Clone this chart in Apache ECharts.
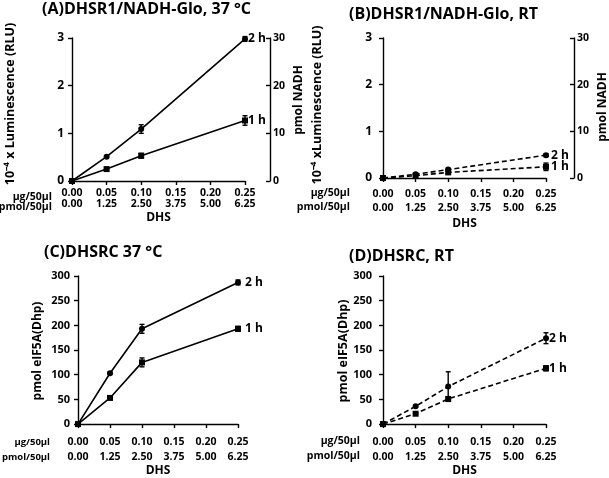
<!DOCTYPE html>
<html><head><meta charset="utf-8">
<script src="https://cdn.jsdelivr.net/npm/echarts@6/dist/echarts.min.js"></script>
<style>html,body{margin:0;padding:0;background:#fff}#c{width:609px;height:478px}</style>
</head><body><div id="c"></div>
<script>
// ---- data ----
const ugLabels = ['0.00', '0.05', '0.10', '0.15', '0.20', '0.25'];
const pmolLabels = ['0.00', '1.25', '2.50', '3.75', '5.00', '6.25'];
const dhs = [0, 0.05, 0.10, 0.25];

const titles = ['(A)DHSR1/NADH-Glo, 37 °C', '(B)DHSR1/NADH-Glo, RT', '(C)DHSRC 37 °C', '(D)DHSRC, RT'];
const seriesNames = ['2 h', '1 h'];

const a2h = [0, 0.51, 1.09, 2.98];
const a2hErr = [0, 0.02, 0.09, 0.05];
const a1h = [0, 0.25, 0.53, 1.27];
const a1hErr = [0, 0.02, 0.05, 0.10];

const b2h = [0, 0.08, 0.18, 0.49];
const b2hErr = [0, 0.01, 0.03, 0.03];
const b1h = [0, 0.05, 0.12, 0.24];
const b1hErr = [0, 0.01, 0.03, 0.08];

const c2h = [0, 103, 193, 287];
const c2hErr = [0, 2, 9, 5];
const c1h = [0, 53, 125, 193];
const c1hErr = [0, 2, 9, 5];

const d2h = [0, 36, 76, 174];
const d2hErr = [0, 2, 30, 11];
const d1h = [0, 21, 51, 113];
const d1hErr = [0, 2, 3, 5];

const lumTicks = [0, 3, 1];     // min, max, interval
const nadhTicks = [0, 30, 10];
const eifTicks = [0, 300, 50];

// ---- build ----
const FONT = 'Open Sans';
const K = '#000';
const grids = [], xAxes = [], yAxes = [], series = [], graphics = [], titleComps = [];

function xFmt(v) { const i = Math.round(v / 0.05); return ugLabels[i] + '\n' + pmolLabels[i]; }

function errRender(params, api) {
  const x = api.value(0), y = api.value(1), e = api.value(2);
  if (!e) return null;
  const top = api.coord([x, y + e]), bot = api.coord([x, y - e]);
  const w = 2.5;
  const st = { stroke: K, lineWidth: 1.4 };
  return { type: 'group', children: [
    { type: 'line', shape: { x1: top[0], y1: top[1], x2: bot[0], y2: bot[1] }, style: st },
    { type: 'line', shape: { x1: top[0] - w, y1: top[1], x2: top[0] + w, y2: top[1] }, style: st },
    { type: 'line', shape: { x1: bot[0] - w, y1: bot[1], x2: bot[0] + w, y2: bot[1] }, style: st }
  ] };
}

function panel(p) {
  const gi = grids.length;
  grids.push({ left: p.grid[0], top: p.grid[1], width: p.grid[2], height: p.grid[3], containLabel: false });
  const xi = xAxes.length;
  xAxes.push({
    type: 'value', gridIndex: gi, min: 0, max: 0.25, interval: 0.05,
    name: 'DHS', nameLocation: 'middle', nameGap: p.dhsGap,
    nameTextStyle: { fontFamily: FONT, fontWeight: 'bold', fontSize: 12, color: K },
    axisLine: { show: true, lineStyle: { color: K, width: 1.4 } },
    axisTick: { show: true, length: 4, lineStyle: { color: K, width: 1.4 } },
    splitLine: { show: false },
    axisLabel: { formatter: xFmt, fontFamily: FONT, fontWeight: 'bold', fontSize: 10.5, color: K,
      lineHeight: p.xLine, margin: p.xMargin }
  });
  const yi = yAxes.length;
  yAxes.push({
    type: 'value', gridIndex: gi, min: p.yTicks[0], max: p.yTicks[1], interval: p.yTicks[2],
    axisLine: { show: true, lineStyle: { color: K, width: 1.4 } },
    axisTick: { show: true, length: 4, lineStyle: { color: K, width: 1.4 } },
    splitLine: { show: false },
    axisLabel: { fontFamily: FONT, fontWeight: 'bold', fontSize: p.yFont, color: K, margin: p.yMargin }
  });
  if (p.right) {
    yAxes.push({
      type: 'value', gridIndex: gi, position: 'right', offset: p.right.offset,
      min: nadhTicks[0], max: nadhTicks[1], interval: nadhTicks[2],
      axisLine: { show: true, lineStyle: { color: K, width: 1.4 } },
      axisTick: { show: true, inside: true, length: 4, lineStyle: { color: K, width: 1.4 } },
      splitLine: { show: false },
      axisLabel: { fontFamily: FONT, fontWeight: 'bold', fontSize: 10.5, color: K, margin: 3 }
    });
    graphics.push({ type: 'text', x: p.right.nameX, y: p.right.nameY, rotation: Math.PI / 2,
      style: { text: 'pmol NADH', align: 'center', verticalAlign: 'middle', fill: K,
        font: 'bold 12px "' + FONT + '"' } });
  }
  graphics.push({ type: 'text', x: p.yName[0], y: p.yName[1], rotation: Math.PI / 2,
    style: { text: p.yName[2], align: 'center', verticalAlign: 'middle', fill: K,
      font: 'bold ' + p.yName[3] + 'px "' + FONT + '"' } });
  graphics.push({ type: 'text', x: p.rowHead[0], y: p.rowHead[1],
    style: { text: 'µg/50µl', align: 'right', verticalAlign: 'middle', fill: K, font: 'bold ' + p.rowHead[3] + 'px "' + FONT + '"' } });
  graphics.push({ type: 'text', x: p.rowHead[0], y: p.rowHead[2],
    style: { text: 'pmol/50µl', align: 'right', verticalAlign: 'middle', fill: K, font: 'bold ' + p.rowHead[3] + 'px "' + FONT + '"' } });
  titleComps.push({ text: p.title, left: p.titlePos[0], top: p.titlePos[1], padding: 0,
    textStyle: { fontFamily: FONT, fontWeight: 'bold', fontSize: p.titleSize, color: K } });

  const sets = [[p.s2h, p.e2h, 'circle', seriesNames[0]], [p.s1h, p.e1h, 'rect', seriesNames[1]]];
  sets.forEach(([vals, errs, sym, nm]) => {
    series.push({
      type: 'line', name: nm, xAxisIndex: xi, yAxisIndex: yi,
      data: dhs.map((x, i) => [x, vals[i]]),
      symbol: sym, symbolSize: 6, showAllSymbol: true,
      lineStyle: { color: K, width: 1.6, type: p.dashed ? [5, 3] : 'solid' },
      itemStyle: { color: K, borderWidth: 0 },
      endLabel: { show: true, formatter: nm, distance: p.labelDist, color: K,
        fontFamily: FONT, fontWeight: 'bold', fontSize: 12 },
      animation: false, z: 3
    });
    series.push({
      type: 'custom', xAxisIndex: xi, yAxisIndex: yi,
      data: dhs.map((x, i) => [x, vals[i], errs[i]]),
      renderItem: errRender, animation: false, z: 4
    });
  });
}

panel({ grid: [72, 38, 173, 143], yTicks: lumTicks, yFont: 12, yMargin: 8, xLine: 10.5, xMargin: 7, dhsGap: 31,
  s2h: a2h, e2h: a2hErr, s1h: a1h, e1h: a1hErr, dashed: false, labelDist: 3,
  right: { offset: 25, nameX: 299, nameY: 100 },
  yName: [10, 104, '10⁻⁴ x Luminescence (RLU)', 12.5], rowHead: [52, 197, 207.5, 10.5],
  title: titles[0], titlePos: [42, 1], titleSize: 16 });
panel({ grid: [383, 38, 163, 140], yTicks: lumTicks, yFont: 12, yMargin: 11, xLine: 14, xMargin: 9, dhsGap: 40,
  s2h: b2h, e2h: b2hErr, s1h: b1h, e1h: b1hErr, dashed: true, labelDist: 5,
  right: { offset: 28, nameX: 603, nameY: 107 },
  yName: [317, 105, '10⁻⁴ xLuminescence (RLU)', 12.5], rowHead: [350, 193, 207, 10.5],
  title: titles[1], titlePos: [349, 6], titleSize: 16 });
panel({ grid: [78, 276, 160, 150], yTicks: eifTicks, yFont: 11, yMargin: 8, xLine: 15, xMargin: 10, dhsGap: 39,
  s2h: c2h, e2h: c2hErr, s1h: c1h, e1h: c1hErr, dashed: false, labelDist: 7,
  yName: [38, 351, 'pmol eIF5A(Dhp)', 12], rowHead: [50, 442, 457, 9.5],
  title: titles[2], titlePos: [44, 244], titleSize: 16 });
panel({ grid: [383, 276, 163, 150], yTicks: eifTicks, yFont: 11, yMargin: 11, xLine: 15, xMargin: 10, dhsGap: 39,
  s2h: d2h, e2h: d2hErr, s1h: d1h, e1h: d1hErr, dashed: true, labelDist: 3,
  yName: [343, 351, 'pmol eIF5A(Dhp)', 12.5], rowHead: [360, 441, 456, 10.5],
  title: titles[3], titlePos: [349, 248], titleSize: 16 });

const chart = echarts.init(document.getElementById('c'), null, { renderer: 'canvas' });
chart.setOption({
  backgroundColor: '#fff', animation: false,
  title: titleComps, grid: grids, xAxis: xAxes, yAxis: yAxes, series: series, graphic: graphics
});
</script></body></html>
